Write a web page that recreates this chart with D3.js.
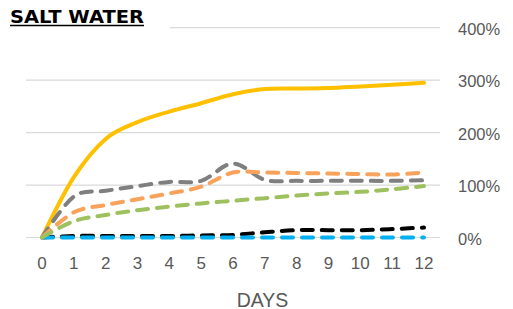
<!DOCTYPE html>
<html>
<head>
<meta charset="utf-8">
<script src="https://cdn.jsdelivr.net/npm/d3@7"></script>
<style>
  body { margin: 0; background: #fff; }
  svg { display: block; }
</style>
</head>
<body>
<div id="chart"></div>
<script>
const days = [0, 1, 2, 3, 4, 5, 6, 7, 8, 9, 10, 11, 12];
const yTicks = [0, 100, 200, 300, 400];

// percent values per day
const yellowVals = [0, 115, 188, 220, 240, 256, 273, 283, 284, 285, 288, 291, 295];
const grayVals   = [0, 78, 89, 98, 106, 108, 141, 110, 108, 108, 108, 108, 109];
const orangeVals = [0, 48, 62, 73, 84, 97, 124, 124, 123, 122, 121, 120, 124];
const greenVals  = [0, 31, 43, 52, 59, 65, 70, 75, 80, 84, 87, 92, 98];
const blackVals  = [0, 3, 3, 3, 3, 4, 5, 10, 14, 14, 14, 16, 19];
const blueVals   = [0, 0, 0, 0, 0, 0, 0, 0, 0, 0, 0, 0, 0];

const width = 513, height = 309;

const svg = d3.select("#chart")
    .append("svg")
    .attr("width", width)
    .attr("height", height);

const x = d3.scalePoint()
    .domain(days)
    .range([42, 424]);

const y = d3.scaleLinear()
    .domain([0, 400])
    .range([237.5, 27.7]);

// gridlines
svg.append("g")
    .selectAll("line")
    .data(yTicks)
    .enter().append("line")
    .attr("x1", 26)
    .attr("x2", 440)
    .attr("y1", d => y(d))
    .attr("y2", d => y(d))
    .attr("stroke", "#d9d9d9")
    .attr("stroke-width", 1.2);

// y labels on the right
svg.append("g")
    .selectAll("text")
    .data(yTicks)
    .enter().append("text")
    .attr("x", 458)
    .attr("y", d => y(d) + 7)
    .attr("fill", "#595959")
    .style("font-family", "Liberation Sans, Arial, sans-serif")
    .style("font-size", "16.5px")
    .text(d => d + "%");

// x labels
svg.append("g")
    .selectAll("text")
    .data(days)
    .enter().append("text")
    .attr("x", d => x(d))
    .attr("y", 268.5)
    .attr("text-anchor", "middle")
    .attr("fill", "#595959")
    .style("font-family", "Liberation Sans, Arial, sans-serif")
    .style("font-size", "17px")
    .text(d => d);

svg.append("text")
    .attr("x", 262.5)
    .attr("y", 306.5)
    .attr("text-anchor", "middle")
    .attr("fill", "#595959")
    .style("font-family", "Liberation Sans, Arial, sans-serif")
    .style("font-size", "19.5px")
    .text("DAYS");

const line = d3.line()
    .x((d, i) => x(days[i]))
    .y(d => y(d))
    .curve(d3.curveCardinal.tension(0));

const series = [
    { vals: blackVals, color: "#000000", dash: "11,9" },
    { vals: blueVals, color: "#00b0f0", dash: "11,9" },
    { vals: yellowVals, color: "#ffc000", dash: null },
    { vals: grayVals, color: "#7f7f7f", dash: "11,9" },
    { vals: orangeVals, color: "#f8a25c", dash: "11,9" },
    { vals: greenVals, color: "#9fc05e", dash: "11,9" }
];

svg.append("g")
    .selectAll("path")
    .data(series)
    .enter().append("path")
    .attr("d", d => line(d.vals))
    .attr("fill", "none")
    .attr("stroke", d => d.color)
    .attr("stroke-width", 4)
    .attr("stroke-linecap", "round")
    .attr("stroke-linejoin", "round")
    .attr("stroke-dasharray", d => d.dash);

// title box sits over the top gridline
svg.append("rect")
    .attr("x", 0)
    .attr("y", 0)
    .attr("width", 170)
    .attr("height", 36)
    .attr("fill", "#fff");

svg.append("text")
    .attr("x", 10)
    .attr("y", 23)
    .attr("fill", "#000")
    .attr("textLength", 134)
    .attr("lengthAdjust", "spacingAndGlyphs")
    .style("font-family", "DejaVu Sans, sans-serif")
    .style("font-weight", "bold")
    .style("font-size", "17.5px")
    .text("SALT WATER");

svg.append("line")
    .attr("x1", 10)
    .attr("x2", 144)
    .attr("y1", 25.5)
    .attr("y2", 25.5)
    .attr("stroke", "#000")
    .attr("stroke-width", 1.6);
</script>
</body>
</html>
